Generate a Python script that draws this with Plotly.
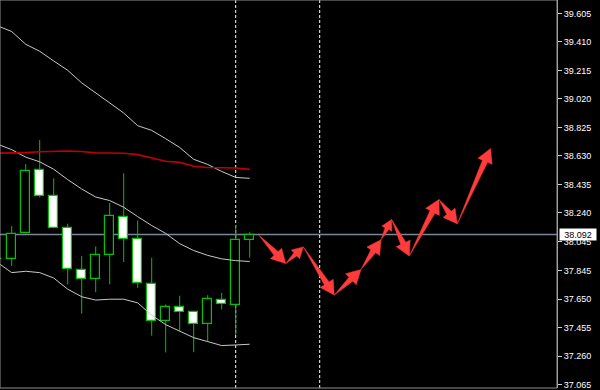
import math
import plotly.graph_objects as go

# ---------------- data ----------------
bar_idx = list(range(-1, 18))
opens  = [37.927, 37.927, 38.102, 38.531, 38.358, 38.138, 37.852, 37.789, 37.955, 38.215,
          38.061, 37.757, 37.503, 37.599, 37.565, 37.480, 37.644, 37.612, 38.055]
highs  = [37.960, 38.150, 38.574, 38.739, 38.477, 38.166, 37.946, 38.011, 38.308, 38.511,
          38.188, 37.934, 37.614, 37.674, 37.569, 37.678, 37.694, 38.159, 38.109]
lows   = [37.890, 37.878, 38.100, 38.347, 38.135, 37.752, 37.551, 37.698, 37.752, 37.905,
          37.728, 37.401, 37.286, 37.433, 37.288, 37.360, 37.580, 37.405, 37.934]
closes = [37.927, 38.098, 38.524, 38.358, 38.138, 37.859, 37.791, 37.955, 38.222, 38.063,
          37.759, 37.501, 37.599, 37.565, 37.480, 37.650, 37.616, 38.055, 38.092]

band_upper = [39.520, 39.481, 39.394, 39.346, 39.280, 39.216, 39.130, 39.062, 38.995, 38.924,
              38.837, 38.805, 38.748, 38.688, 38.607, 38.572, 38.524, 38.483, 38.477]
ma_red     = [38.649, 38.649, 38.653, 38.659, 38.664, 38.664, 38.660, 38.651, 38.650, 38.649,
              38.639, 38.615, 38.594, 38.586, 38.560, 38.551, 38.549, 38.548, 38.538]
band_mid   = [38.710, 38.673, 38.622, 38.590, 38.539, 38.468, 38.404, 38.349, 38.325, 38.279,
              38.215, 38.154, 38.100, 38.030, 37.983, 37.950, 37.926, 37.914, 37.908]
band_lower = [37.900, 37.832, 37.841, 37.832, 37.795, 37.719, 37.667, 37.644, 37.650, 37.650,
              37.625, 37.541, 37.476, 37.433, 37.387, 37.360, 37.333, 37.337, 37.342]

# forecast path (bar position, price)
arrow_x = [17.66, 19.57, 20.83, 23.04, 24.95, 26.38, 27.14, 28.40, 30.52, 31.83, 34.21]
arrow_y = [38.087, 37.894, 38.008, 37.678, 37.853, 38.057, 38.195, 37.946, 38.332, 38.166, 38.681]

separator_bars = [16, 22]
current_price = 38.092

tick_vals = [39.605, 39.410, 39.215, 39.020, 38.825, 38.630, 38.435, 38.240, 38.045,
             37.845, 37.650, 37.455, 37.260, 37.065]
tick_text = ["%.3f" % v for v in tick_vals]

# ---------------- layout constants ----------------
W, H = 600, 390
ML, MR, MT, MB = 0, 43, 0, 0
X_RANGE = [-0.836, 38.95]
Y_RANGE = [37.0426, 39.6969]
GREEN = "#00c400"

fig = go.Figure()

# wicks (drawn only outside bodies)
wx, wy = [], []
for i, o, h, l, c in zip(bar_idx, opens, highs, lows, closes):
    top, bot = max(o, c), min(o, c)
    if h > top:
        wx += [i, i, None]
        wy += [top, h, None]
    if l < bot:
        wx += [i, i, None]
        wy += [bot, l, None]
fig.add_trace(go.Scatter(x=wx, y=wy, mode="lines", line=dict(color=GREEN, width=1),
                         hoverinfo="skip", showlegend=False))

# bodies
body_base = [min(o, c) for o, c in zip(opens, closes)]
body_h = [max(abs(c - o), 0.0004) for o, c in zip(opens, closes)]
body_fill = ["#000000" if c >= o else "#ffffff" for o, c in zip(opens, closes)]
fig.add_trace(go.Bar(x=bar_idx, y=body_h, base=body_base, width=0.62,
                     marker=dict(color=body_fill, line=dict(color=GREEN, width=1.2)),
                     hoverinfo="skip", showlegend=False))

# bands / MA
for ys, col, w in [(band_upper, "#c8c8c8", 1), (band_mid, "#c8c8c8", 1),
                   (band_lower, "#c8c8c8", 1), (ma_red, "#c00000", 1.6)]:
    fig.add_trace(go.Scatter(x=bar_idx, y=ys, mode="lines", line=dict(color=col, width=w),
                             hoverinfo="skip", showlegend=False))

# arrows (wedge + head), geometry computed in pixel space
SX = (W - ML - MR) / (X_RANGE[1] - X_RANGE[0])
SY = (H - MT - MB) / (Y_RANGE[1] - Y_RANGE[0])
px_, py_ = [], []
for k in range(len(arrow_x) - 1):
    ax, ay = arrow_x[k] * SX, arrow_y[k] * SY
    bx, by = arrow_x[k + 1] * SX, arrow_y[k + 1] * SY
    dx, dy = bx - ax, by - ay
    L = math.hypot(dx, dy)
    ux, uy = dx / L, dy / L
    nx, ny = -uy, ux
    hl = min(14.0, 0.45 * L)
    hw = 0.55 * hl
    nw = 0.2 * hl
    cx, cy = bx - ux * hl, by - uy * hl
    pts = [(ax, ay), (cx + nx * nw, cy + ny * nw), (cx + nx * hw, cy + ny * hw), (bx, by),
           (cx - nx * hw, cy - ny * hw), (cx - nx * nw, cy - ny * nw), (ax, ay)]
    for p in pts:
        px_.append(p[0] / SX)
        py_.append(p[1] / SY)
    px_.append(None)
    py_.append(None)
fig.add_trace(go.Scatter(x=px_, y=py_, mode="lines", fill="toself", fillcolor="#ff3b3b",
                         line=dict(color="#ff3b3b", width=0.5), hoverinfo="skip",
                         showlegend=False))

shapes = []
# current price line
shapes.append(dict(type="line", xref="paper", x0=0, x1=1, yref="y", y0=current_price,
                   y1=current_price, line=dict(color="#7a8796", width=1.5), layer="below"))
for s in separator_bars:
    shapes.append(dict(type="line", xref="x", x0=s, x1=s, yref="paper", y0=0, y1=1,
                       line=dict(color="#ffffff", width=1, dash="3px,2px"), layer="below"))
shapes.append(dict(type="rect", xref="paper", yref="paper", x0=0, x1=1, y0=0, y1=1,
                   line=dict(color="#909090", width=1)))

fig.update_layout(
    width=W, height=H,
    margin=dict(l=ML, r=MR, t=MT, b=MB, pad=0),
    paper_bgcolor="#000000", plot_bgcolor="#000000",
    showlegend=False, bargap=0,
    shapes=shapes,
    xaxis=dict(range=X_RANGE, visible=False, showgrid=False, zeroline=False, fixedrange=True),
    yaxis=dict(range=Y_RANGE, side="right", showgrid=False, zeroline=False,
               showline=True, linecolor="#b0b0b0", linewidth=1,
               tickmode="array", tickvals=tick_vals, ticktext=tick_text,
               ticks="outside", ticklen=4, tickcolor="#d0d0d0", tickwidth=1,
               ticklabeloverflow="allow",
               tickfont=dict(family="Liberation Sans", size=9, color="#ffffff"),
               fixedrange=True),
    annotations=[dict(xref="paper", x=1, xanchor="left", xshift=2, yref="y", y=current_price,
                      text="%.3f" % current_price, showarrow=False, bgcolor="#ffffff",
                      font=dict(family="Liberation Sans", size=9, color="#000000"),
                      width=36, height=11, borderpad=0)],
)

fig.write_html("out.html")
